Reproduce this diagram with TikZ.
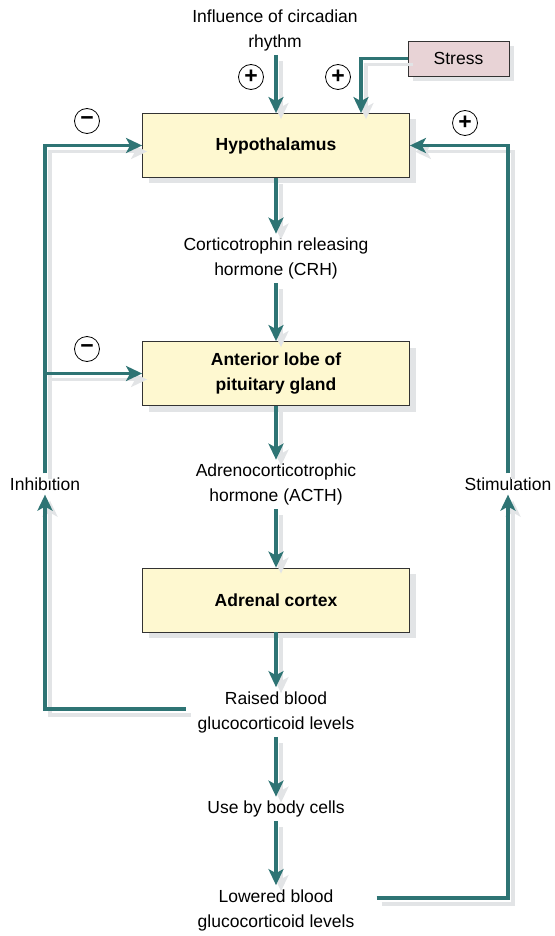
\documentclass[tikz,border=0pt]{standalone}
\usepackage{fontspec}
\setmainfont{Liberation Sans}
\usetikzlibrary{arrows.meta,shadows,calc}
\definecolor{flowteal}{HTML}{2E7474}
\definecolor{boxfill}{HTML}{FEF8D0}
\definecolor{stressfill}{HTML}{E8D3D6}
\definecolor{shade}{HTML}{E2E4E6}

\begin{document}
\begin{tikzpicture}[x=1pt,y=-1pt,
    font=\fontsize{17.5}{25}\selectfont,
    organ/.style={draw=black!80,line width=0.8pt,fill=boxfill,
      minimum width=267pt,minimum height=64pt,align=center,
      font=\fontsize{17.5}{25}\selectfont\bfseries,
      drop shadow={shadow xshift=6pt,shadow yshift=-6pt,fill=shade,opacity=1}},
    label/.style={align=center,inner sep=4pt},
    flow/.style={draw=flowteal,line width=3.6pt,
      -{Stealth[length=16pt,width=15pt,inset=4pt]},
      preaction={draw=shade,line width=3.6pt,
        transform canvas={shift={(5pt,-6pt)}}}},
    sign/.style={circle,draw=black,line width=0.8pt,fill=white,
      minimum size=25pt,inner sep=0pt,font=\fontsize{23}{23}\selectfont\bfseries}]
  \useasboundingbox (0,0) rectangle (554,936);

  \node[label] (circ) at (275,30) {Influence of circadian\\rhythm};
  \node[draw=black!80,line width=0.8pt,fill=stressfill,minimum width=101pt,
    minimum height=35pt,
    drop shadow={shadow xshift=5pt,shadow yshift=-5pt,fill=shade,opacity=1}]
    (stress) at (458.5,58.5) {Stress};

  \node[organ] (hyp) at (276,145.5) {Hypothalamus};
  \node[organ] (ant) at (276,373.5) {Anterior lobe of\\pituitary gland};
  \node[organ] (adr) at (276,600) {Adrenal cortex};

  \node[label] (crh) at (276,258.5) {Corticotrophin releasing\\hormone (CRH)};
  \node[label] (acth) at (276,484.5) {Adrenocorticotrophic\\hormone (ACTH)};
  \node[label] (raised) at (276,712) {Raised blood\\glucocorticoid levels};
  \node[label] (use) at (276,809) {Use by body cells};
  \node[label] (lowered) at (276,910) {Lowered blood\\glucocorticoid levels};
  \node[label] (inhib) at (45,484) {Inhibition};
  \node[label] (stim) at (508,484) {Stimulation};

  \node[sign] (p1) at (251,77) {+};
  \node[sign] (p2) at (338,77) {+};
  \node[sign] (p3) at (465,123) {+};
  \node[sign] (m1) at (87,121) {−};
  \node[sign] (m2) at (87,349) {−};

  % main chain down the middle
  \draw[flow] (circ.south -| hyp.north) -- (hyp.north);
  \draw[flow] (stress.west) -| ([xshift=85pt]hyp.north);
  \draw[flow] (hyp) -- (crh);
  \draw[flow] (crh) -- (ant);
  \draw[flow] (ant) -- (acth);
  \draw[flow] (acth) -- (adr);
  \draw[flow] (adr) -- (raised);
  \draw[flow] (raised) -- (use);
  \draw[flow] (use) -- (lowered);

  % feedback loops
  \draw[flow] ([xshift=-8pt,yshift=3pt]raised.west) -| (inhib.south);
  \draw[flow] (inhib.north) |- (hyp.west);
  \draw[flow] (inhib.north |- ant.west) -- (ant.west);
  \draw[flow] ([xshift=18pt,yshift=12pt]lowered.east) -| (stim.south);
  \draw[flow] (stim.north) |- (hyp.east);
\end{tikzpicture}
\end{document}
